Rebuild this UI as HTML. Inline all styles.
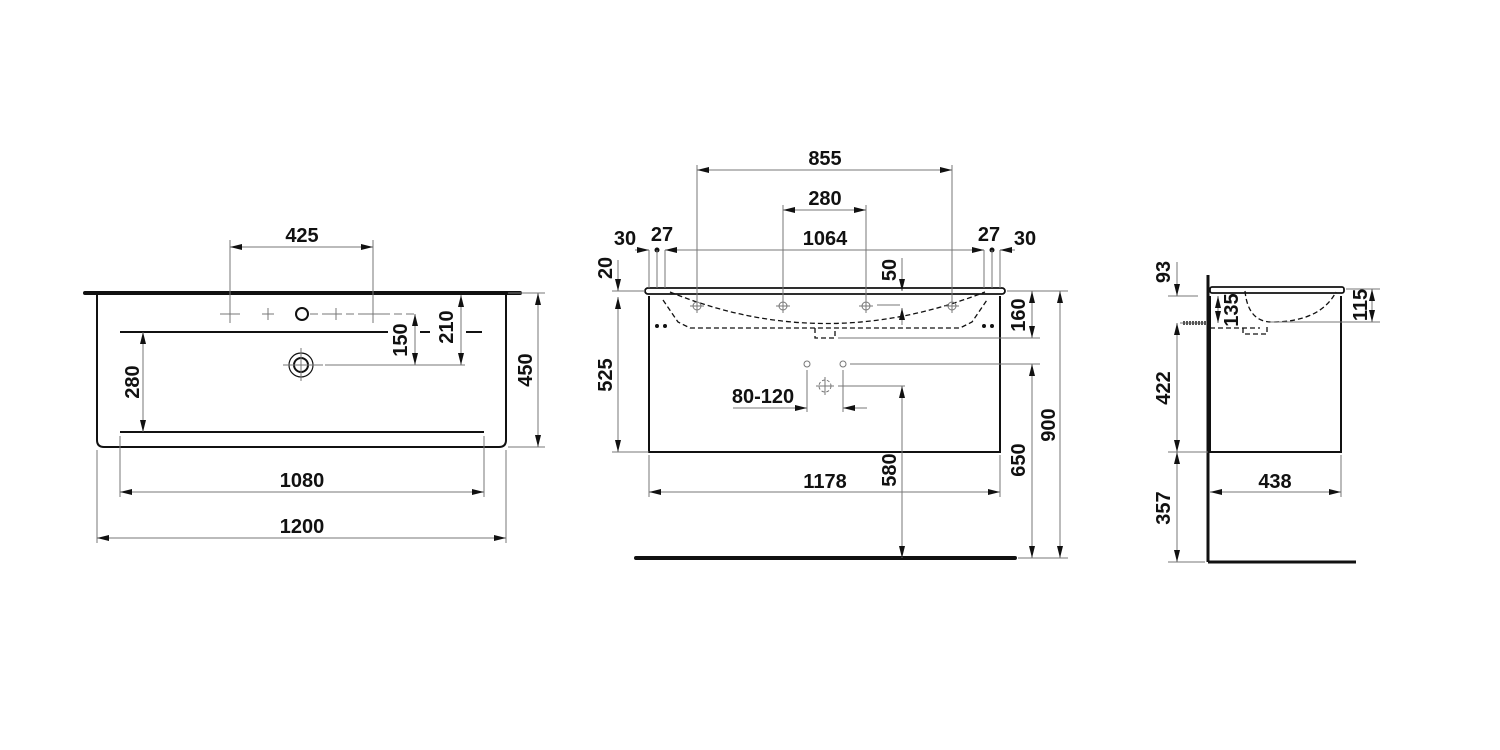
<!DOCTYPE html>
<html><head><meta charset="utf-8"><style>
body{margin:0;background:#fff}
svg{display:block}
text{font-family:"Liberation Sans Narrow","Liberation Sans",sans-serif;font-weight:bold;font-size:20px;fill:#111;text-anchor:middle}
.d{stroke:#777;stroke-width:1;fill:none}
.o{stroke:#111;stroke-width:2;fill:none}
.k{stroke:#111;stroke-width:1.3;fill:none;stroke-dasharray:5 3}
</style></head><body>
<svg width="1500" height="750" viewBox="0 0 1500 750">
<defs>
<marker id="a" viewBox="0 0 12 6" refX="12" refY="3" markerWidth="12" markerHeight="6" orient="auto-start-reverse" markerUnits="userSpaceOnUse"><path d="M0,0L12,3L0,6z" fill="#111"/></marker>
</defs>
<g id="left">
<line x1="85" y1="293" x2="520" y2="293" stroke="#111" stroke-width="4" stroke-linecap="round"/>
<path class="o" d="M97,295V440q0,7 7,7H499q7,0 7,-7V295"/>
<line class="o" x1="120" y1="332" x2="388" y2="332"/>
<line class="o" x1="120" y1="432" x2="484" y2="432"/>
<line class="d" x1="230" y1="240" x2="230" y2="322"/><line class="d" x1="373" y1="240" x2="373" y2="322"/>
<line class="d" x1="230" y1="247" x2="373" y2="247" marker-start="url(#a)" marker-end="url(#a)"/>
<text x="302" y="242">425</text>
<g class="d"><path d="M220,314h20M230,305v18M262,314h12M268,308v12M330,314h12M336,308v12M363,314h20M373,305v18"/></g>
<line class="d" x1="310" y1="314" x2="418" y2="314" stroke-dasharray="8 4"/>
<circle cx="302" cy="314" r="6" stroke="#111" stroke-width="2" fill="none"/>
<circle cx="301" cy="365" r="12" stroke="#111" stroke-width="1.2" fill="none"/>
<circle cx="301" cy="365" r="7" stroke="#111" stroke-width="2" fill="none"/>
<path class="d" d="M283,365h40M301,348v33"/>
<line class="d" x1="325" y1="365" x2="465" y2="365"/>
<path class="o" d="M420,332h10M466,332h16" stroke-width="1.5"/>
<line class="d" x1="143" y1="332" x2="143" y2="432" marker-start="url(#a)" marker-end="url(#a)"/>
<text transform="translate(139,382) rotate(-90)">280</text>
<line class="d" x1="415" y1="314" x2="415" y2="365" marker-start="url(#a)" marker-end="url(#a)"/>
<text transform="translate(407,340) rotate(-90)">150</text>
<line class="d" x1="461" y1="295" x2="461" y2="365" marker-start="url(#a)" marker-end="url(#a)"/>
<text transform="translate(453,327) rotate(-90)">210</text>
<line class="d" x1="508" y1="293" x2="545" y2="293"/><line class="d" x1="508" y1="447" x2="545" y2="447"/>
<line class="d" x1="538" y1="293" x2="538" y2="447" marker-start="url(#a)" marker-end="url(#a)"/>
<text transform="translate(532,370) rotate(-90)">450</text>
<line class="d" x1="120" y1="436" x2="120" y2="497"/><line class="d" x1="484" y1="436" x2="484" y2="497"/>
<line class="d" x1="120" y1="492" x2="484" y2="492" marker-start="url(#a)" marker-end="url(#a)"/>
<text x="302" y="487">1080</text>
<line class="d" x1="97" y1="450" x2="97" y2="543"/><line class="d" x1="506" y1="450" x2="506" y2="543"/>
<line class="d" x1="97" y1="538" x2="506" y2="538" marker-start="url(#a)" marker-end="url(#a)"/>
<text x="302" y="533">1200</text>
</g>
<g id="mid">
<rect x="645" y="288" width="360" height="6" rx="3" stroke="#111" stroke-width="1.8" fill="none"/>
<path class="o" d="M649,296V452H1000V296"/>
<line x1="636" y1="558" x2="1015" y2="558" stroke="#111" stroke-width="4" stroke-linecap="round"/>
<path class="k" d="M670,292Q825,355 985,292"/>
<path class="k" d="M663,300L678,322L690,328H960L972,322L987,300"/>
<path class="k" d="M815,328v10h20v-10"/>
<g class="d"><circle cx="697" cy="306" r="4"/><circle cx="783" cy="306" r="4"/><circle cx="866" cy="306" r="4"/><circle cx="952" cy="306" r="4"/>
<path d="M690,306h14M697,299v14M776,306h14M783,299v14M859,306h14M866,299v14M945,306h14M952,299v14"/></g>
<g fill="#111"><circle cx="657" cy="326" r="2"/><circle cx="665" cy="326" r="2"/><circle cx="984" cy="326" r="2"/><circle cx="992" cy="326" r="2"/><circle cx="657" cy="250" r="2.5"/><circle cx="992" cy="250" r="2.5"/></g>
<line class="d" x1="697" y1="165" x2="697" y2="300"/><line class="d" x1="952" y1="165" x2="952" y2="300"/>
<line class="d" x1="697" y1="170" x2="952" y2="170" marker-start="url(#a)" marker-end="url(#a)"/>
<text x="825" y="165">855</text>
<line class="d" x1="783" y1="205" x2="783" y2="300"/><line class="d" x1="866" y1="205" x2="866" y2="300"/>
<line class="d" x1="783" y1="210" x2="866" y2="210" marker-start="url(#a)" marker-end="url(#a)"/>
<text x="825" y="205">280</text>
<g class="d"><path d="M649,250v38M657,250v38M665,250v38M984,250v38M992,250v38M1000,250v38"/></g>
<line class="d" x1="665" y1="250" x2="984" y2="250" marker-start="url(#a)" marker-end="url(#a)"/>
<line class="d" x1="635" y1="250" x2="649" y2="250" marker-end="url(#a)"/>
<line class="d" x1="1015" y1="250" x2="1000" y2="250" marker-end="url(#a)"/>
<text x="825" y="245">1064</text><text x="625" y="245">30</text><text x="662" y="241">27</text><text x="989" y="241">27</text><text x="1025" y="245">30</text>
<line class="d" x1="612" y1="291" x2="645" y2="291"/><line class="d" x1="612" y1="452" x2="649" y2="452"/>
<line class="d" x1="618" y1="260" x2="618" y2="291" marker-end="url(#a)"/>
<text transform="translate(612,268) rotate(-90)">20</text>
<line class="d" x1="618" y1="297" x2="618" y2="452" marker-start="url(#a)" marker-end="url(#a)"/>
<text transform="translate(612,375) rotate(-90)">525</text>
<line class="d" x1="902" y1="258" x2="902" y2="291" marker-end="url(#a)"/>
<line class="d" x1="902" y1="318" x2="902" y2="325" />
<line class="d" x1="902" y1="325" x2="902" y2="308" marker-end="url(#a)"/>
<line class="d" x1="877" y1="305" x2="900" y2="305"/>
<text transform="translate(896,270) rotate(-90)">50</text>
<line class="d" x1="1007" y1="291" x2="1068" y2="291"/>
<line class="d" x1="838" y1="338" x2="1040" y2="338"/>
<line class="d" x1="1032" y1="291" x2="1032" y2="338" marker-start="url(#a)" marker-end="url(#a)"/>
<text transform="translate(1025,315) rotate(-90)">160</text>
<line class="d" x1="1060" y1="291" x2="1060" y2="558" marker-start="url(#a)" marker-end="url(#a)"/>
<text transform="translate(1055,425) rotate(-90)">900</text>
<line class="d" x1="1018" y1="558" x2="1068" y2="558"/>
<line class="d" x1="850" y1="364" x2="1040" y2="364"/>
<line class="d" x1="1032" y1="364" x2="1032" y2="558" marker-start="url(#a)" marker-end="url(#a)"/>
<text transform="translate(1025,460) rotate(-90)">650</text>
<line class="d" x1="838" y1="386" x2="905" y2="386"/>
<line class="d" x1="902" y1="386" x2="902" y2="558" marker-start="url(#a)" marker-end="url(#a)"/>
<text transform="translate(896,470) rotate(-90)">580</text>
<g class="d"><circle cx="807" cy="364" r="3"/><circle cx="843" cy="364" r="3"/><circle cx="825" cy="386" r="6" stroke-dasharray="3 2"/><path d="M816,386h18M825,377v18M807,370v42M843,370v42"/></g>
<line class="d" x1="733" y1="408" x2="807" y2="408" marker-end="url(#a)"/>
<line class="d" x1="867" y1="408" x2="843" y2="408" marker-end="url(#a)"/>
<text x="763" y="403">80-120</text>
<line class="d" x1="649" y1="455" x2="649" y2="497"/><line class="d" x1="1000" y1="455" x2="1000" y2="497"/>
<line class="d" x1="649" y1="492" x2="1000" y2="492" marker-start="url(#a)" marker-end="url(#a)"/>
<text x="825" y="488">1178</text>
</g>
<g id="right">
<line x1="1208" y1="275" x2="1208" y2="562" stroke="#111" stroke-width="3"/>
<line x1="1208" y1="562" x2="1356" y2="562" stroke="#111" stroke-width="3"/>
<rect x="1210" y="287" width="134" height="6" rx="2" stroke="#111" stroke-width="1.8" fill="none"/>
<path class="o" d="M1210,296V452H1341V296"/>
<path class="k" d="M1245,291Q1248,322 1272,322Q1320,322 1336,292"/>
<path class="k" d="M1210,328H1260"/><path class="k" d="M1243,328v6h24v-10"/>
<path class="d" d="M1180,323h25"/><path d="M1183,323h23" stroke="#555" stroke-width="4" stroke-dasharray="2 1"/>
<line class="d" x1="1168" y1="296" x2="1198" y2="296"/><line class="d" x1="1168" y1="452" x2="1208" y2="452"/><line class="d" x1="1168" y1="562" x2="1205" y2="562"/>
<line class="d" x1="1177" y1="262" x2="1177" y2="296" marker-end="url(#a)"/>
<text transform="translate(1170,272) rotate(-90)">93</text>
<line class="d" x1="1177" y1="323" x2="1177" y2="452" marker-start="url(#a)" marker-end="url(#a)"/>
<text transform="translate(1170,388) rotate(-90)">422</text>
<line class="d" x1="1177" y1="452" x2="1177" y2="562" marker-start="url(#a)" marker-end="url(#a)"/>
<text transform="translate(1170,508) rotate(-90)">357</text>
<line class="d" x1="1218" y1="296" x2="1218" y2="323" marker-start="url(#a)" marker-end="url(#a)"/>
<text transform="translate(1238,310) rotate(-90)">135</text>
<line class="d" x1="1346" y1="289" x2="1380" y2="289"/><line class="d" x1="1270" y1="322" x2="1380" y2="322"/>
<line class="d" x1="1372" y1="289" x2="1372" y2="322" marker-start="url(#a)" marker-end="url(#a)"/>
<text transform="translate(1367,305) rotate(-90)">115</text>
<line class="d" x1="1341" y1="455" x2="1341" y2="497"/>
<line class="d" x1="1210" y1="492" x2="1341" y2="492" marker-start="url(#a)" marker-end="url(#a)"/>
<text x="1275" y="488">438</text>
</g>
</svg>
</body></html>
